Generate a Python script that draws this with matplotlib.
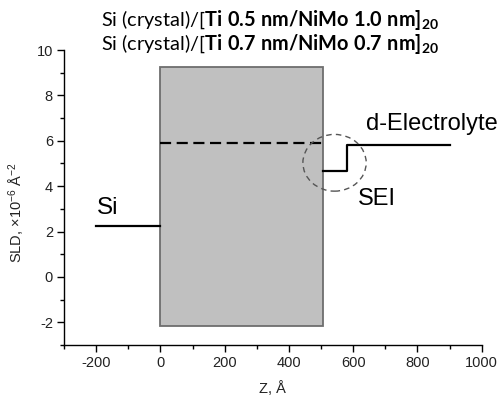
import matplotlib
matplotlib.use("Agg")
import matplotlib.pyplot as plt
from matplotlib.patches import Rectangle, Ellipse
from matplotlib.ticker import MultipleLocator

plt.rcParams['font.family'] = ['Liberation Sans', 'DejaVu Sans']
plt.rcParams['axes.unicode_minus'] = False
plt.rcParams['mathtext.fontset'] = 'custom'
plt.rcParams['mathtext.rm'] = 'Liberation Sans'
plt.rcParams['mathtext.it'] = 'Liberation Sans'
plt.rcParams['mathtext.bf'] = 'Lato:bold'

# SLD profile segments (Z in Å, SLD in 1e-6 Å^-2)
si_z = [-200, 0]
si_sld = [2.23, 2.23]
film_z = [0, 505]
film_sld = [5.92, 5.92]
sei_z = [505, 580, 580, 900]
sei_sld = [4.66, 4.66, 5.82, 5.82]

# multilayer block extent
block_z = [0, 505]
block_sld = [-2.18, 9.26]

# SEI marker centre
sei_mark = [542, 5.03]

titles = [
    r'Si (crystal)/[$\mathbf{Ti\ 0.5\ nm/NiMo\ 1.0\ nm]_{20}}$',
    r'Si (crystal)/[$\mathbf{Ti\ 0.7\ nm/NiMo\ 0.7\ nm]_{20}}$',
]

fig = plt.figure(figsize=(5.02, 4.01), dpi=100)
ax = fig.add_axes([64 / 502, 56 / 401, (481.7 - 64) / 502, (345 - 50) / 401])

ax.add_patch(Rectangle((block_z[0], block_sld[0]), block_z[1] - block_z[0],
                       block_sld[1] - block_sld[0], facecolor='#c0c0c0',
                       edgecolor='#6e6e6e', lw=1.3, zorder=1))

ax.plot(si_z, si_sld, color='black', lw=1.6, zorder=3)
ax.plot(film_z, film_sld, color='black', lw=1.6, ls=(0, (5, 2.5)), zorder=3)
ax.plot(sei_z, sei_sld, color='black', lw=1.6, zorder=3)

ax.add_patch(Ellipse((sei_mark[0], sei_mark[1]), 197, 2.5, fill=False,
                     edgecolor='#555555', lw=1.0, ls=(0, (4, 3)), zorder=4))

ax.text(-198, 2.55, 'Si', fontsize=17.5, ha='left', va='bottom')
ax.text(640, 6.25, 'd-Electrolyte', fontsize=17, ha='left', va='bottom')
ax.text(615, 3.45, 'SEI', fontsize=17, ha='left', va='center')

ax.set_xlim(-300, 1000)
ax.set_ylim(-3, 10)
ax.xaxis.set_major_locator(MultipleLocator(200))
ax.xaxis.set_minor_locator(MultipleLocator(100))
ax.yaxis.set_major_locator(MultipleLocator(2))
ax.yaxis.set_minor_locator(MultipleLocator(1))
ax.spines['top'].set_visible(False)
ax.spines['right'].set_visible(False)
for s in ('left', 'bottom'):
    ax.spines[s].set_linewidth(1.0)
ax.tick_params(which='major', direction='out', length=5, width=1.0,
               labelsize=10.5, pad=3, labelcolor='#222222')
ax.tick_params(which='minor', direction='out', length=3, width=1.0)

ax.set_xlabel('Z, Å', fontsize=10.5, labelpad=8, color='#222222')
ax.set_ylabel(r'SLD, ×10$^{-6}$ Å$^{-2}$', fontsize=10.5, color='#222222')
ax.yaxis.set_label_coords(-0.089, 0.45)

for i, t in enumerate(titles):
    fig.text(0.537, 1 - (26 + 24 * i) / 401, t, fontsize=14.3,
             family='Lato', ha='center', va='baseline')

fig.savefig('out.png', dpi=100)
